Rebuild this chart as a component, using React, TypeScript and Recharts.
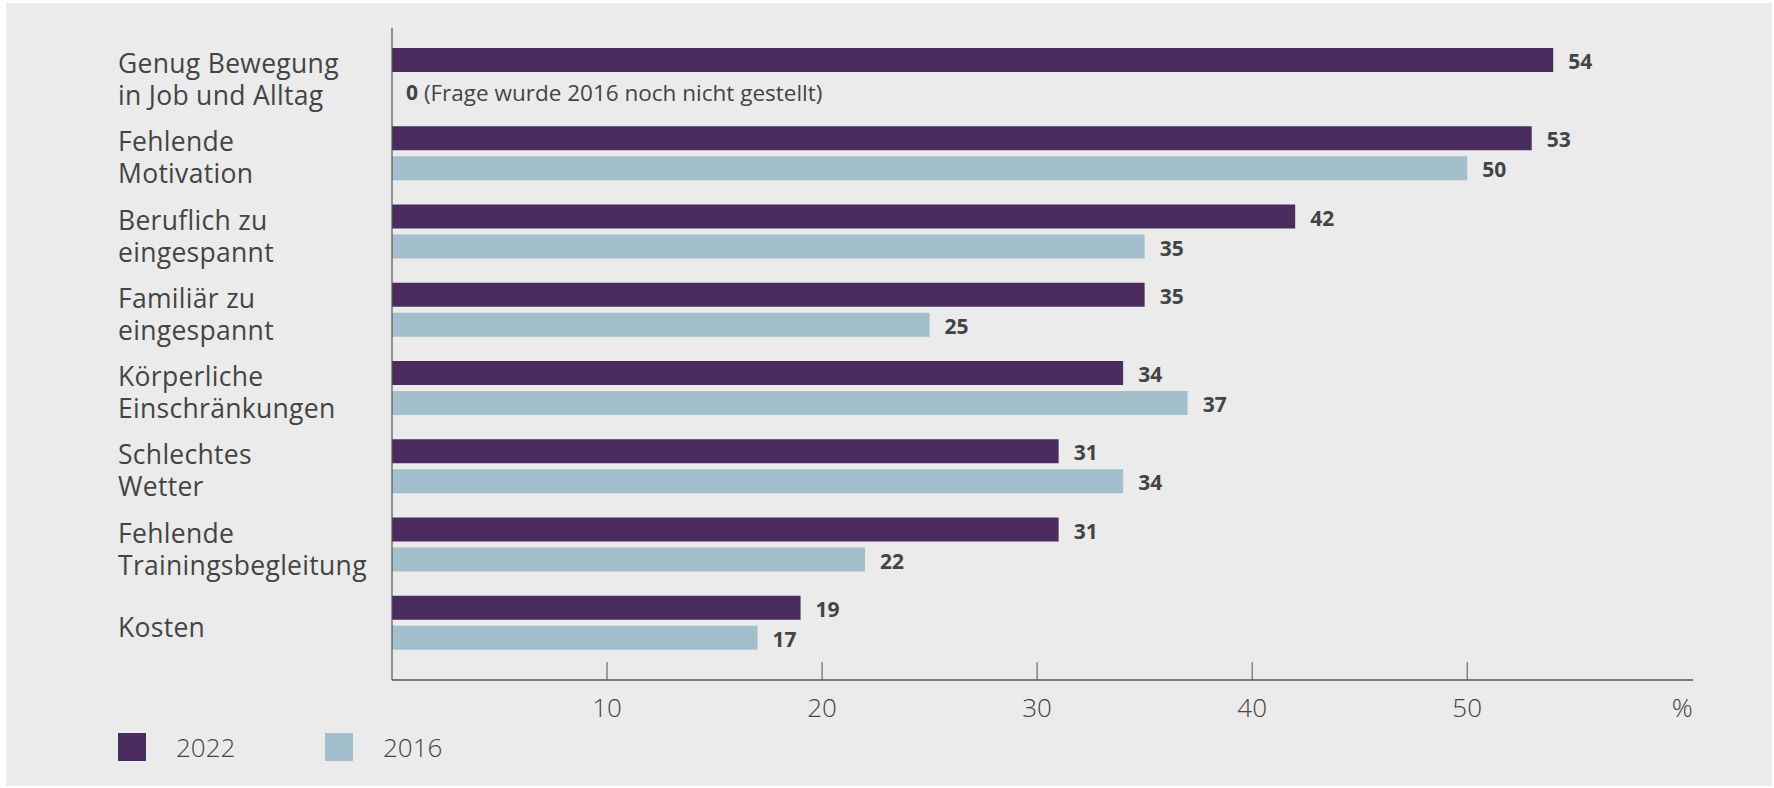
import { Bar, BarChart, LabelList, XAxis, YAxis } from "recharts";

const categories = [
  "Genug Bewegung\nin Job und Alltag",
  "Fehlende\nMotivation",
  "Beruflich zu\neingespannt",
  "Familiär zu\neingespannt",
  "Körperliche\nEinschränkungen",
  "Schlechtes\nWetter",
  "Fehlende\nTrainingsbegleitung",
  "Kosten",
];
const values2022 = [54, 53, 42, 35, 34, 31, 31, 19];
const values2016 = [0, 50, 35, 25, 37, 34, 22, 17];
const xTicks = [10, 20, 30, 40, 50, 60];
const xTickLabels = ["10", "20", "30", "40", "50", "%"];
const note2016 = "(Frage wurde 2016 noch nicht gestellt)";
const seriesNames = ["2022", "2016"];

const PURPLE = "#4a2d5e";
const BLUE = "#a3bfcc";
const TEXT = "#444444";
const FONT = "'Open Sans', 'Noto Sans', sans-serif";
const BAR = 24;
const GAP = 6;

const data = categories.map((name, i) => ({
  name,
  v2022: values2022[i],
  v2016: values2016[i],
}));

const CategoryTick = (props: any) => {
  const { y, payload } = props;
  const lines = String(payload.value).split("\n");
  const lineH = 32;
  const startY = y + 4 - ((lines.length - 1) * lineH) / 2;
  return (
    <text
      x={118}
      y={startY}
      fill={TEXT}
      fontSize={26.5}
      letterSpacing={0.3}
      fontFamily={FONT}
      dominantBaseline="central"
    >
      {lines.map((l, i) => (
        <tspan key={i} x={118} y={startY + i * lineH}>
          {l}
        </tspan>
      ))}
    </text>
  );
};

const ValueTick = (props: any) => {
  const { x, y, payload } = props;
  const idx = xTicks.indexOf(payload.value);
  return (
    <g>
      {payload.value !== 60 && <line x1={x} x2={x} y1={y - 18} y2={y} stroke="#555" strokeWidth={1} />}
      <text x={x} y={y + 37} textAnchor="middle" fill={TEXT} fontSize={26} fontWeight={300} fontFamily={FONT}>
        {xTickLabels[idx]}
      </text>
    </g>
  );
};

const valueText = (x: number, cy: number, v: number, note?: string) => (
  <text x={x} y={cy} fill={TEXT} fontSize={21} fontFamily={FONT} dominantBaseline="central">
    <tspan fontWeight={700}>{v}</tspan>
    {note && (
      <tspan fontWeight={400} fontSize={22.5}>
        {" "}
        {note}
      </tspan>
    )}
  </text>
);

// 2022 label; also places the 2016 "0" note for rows where no 2016 bar is drawn
const Label2022 = (props: any) => {
  const vb = props.viewBox || props;
  const x = Number(vb.x);
  const y = Number(vb.y);
  const w = Number(vb.width) || 0;
  const h = Number(vb.height) || 0;
  const i = props.index;
  const other = typeof i === "number" ? values2016[i] : undefined;
  return (
    <g>
      {valueText(x + w + 15, y + h / 2 + 1, props.value)}
      {other === 0 && valueText(x + 14, y + h + GAP + h / 2 + 2, 0, note2016)}
    </g>
  );
};

const Label2016 = (props: any) => {
  const vb = props.viewBox || props;
  const x = Number(vb.x);
  const y = Number(vb.y);
  const w = Number(vb.width) || 0;
  const h = Number(vb.height) || 0;
  if (!props.value) return null;
  return valueText(x + w + 15, y + h / 2 + 1, props.value);
};

export default function App() {
  return (
    <div
      style={{
        position: "absolute",
        left: 0,
        top: 0,
        width: 1774,
        height: 788,
        background: "#ffffff",
      }}
    >
      <div
        style={{
          position: "absolute",
          left: 6,
          top: 3,
          width: 1766,
          height: 783,
          background: "#ebebeb",
        }}
      />
      <div style={{ position: "absolute", left: 0, top: 0 }}>
        <BarChart
          width={1774}
          height={788}
          data={data}
          layout="vertical"
          margin={{ top: 28, right: 81, bottom: 48, left: 0 }}
          barGap={GAP}
          barCategoryGap={12}
        >
          <XAxis
            type="number"
            domain={[0, 60.5]}
            ticks={xTicks}
            height={60}
            axisLine={{ stroke: "#555", strokeWidth: 1.6 }}
            tickLine={false}
            tickSize={0}
            tickMargin={0}
            tick={<ValueTick />}
            interval={0}
          />
          <YAxis
            type="category"
            dataKey="name"
            width={392}
            padding={{ top: 8, bottom: 18 }}
            axisLine={{ stroke: "#555", strokeWidth: 1.2 }}
            tickLine={false}
            tick={<CategoryTick />}
            interval={0}
          />
          <Bar dataKey="v2022" fill={PURPLE} barSize={BAR} isAnimationActive={false}>
            <LabelList dataKey="v2022" content={<Label2022 />} />
          </Bar>
          <Bar dataKey="v2016" fill={BLUE} barSize={BAR} isAnimationActive={false}>
            <LabelList dataKey="v2016" content={<Label2016 />} />
          </Bar>
        </BarChart>
      </div>
      {seriesNames.map((s, i) => (
        <div
          key={s}
          style={{
            position: "absolute",
            left: 118 + i * 207,
            top: 733,
            display: "flex",
            alignItems: "center",
            fontFamily: FONT,
            fontWeight: 300,
            fontSize: 26,
            color: TEXT,
          }}
        >
          <div style={{ width: 28, height: 28, background: i === 0 ? PURPLE : BLUE, marginRight: 30 }} />
          <span style={{ lineHeight: "28px" }}>{s}</span>
        </div>
      ))}
    </div>
  );
}
